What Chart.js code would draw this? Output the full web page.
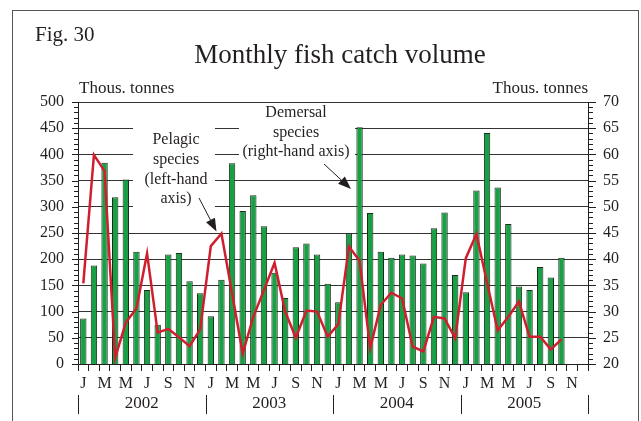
<!DOCTYPE html>
<html>
<head>
<meta charset="utf-8">
<script src="https://cdn.jsdelivr.net/npm/chart.js@4"></script>
<style>
  body { margin: 0; background: #fff; }
  #wrap { width: 641px; height: 421px; }
</style>
</head>
<body>
<div id="wrap"><canvas id="chart" width="641" height="421"></canvas></div>
<script>
const monthLetters = ["J", "F", "M", "A", "M", "J", "J", "A", "S", "O", "N", "D"];
const years = ["2002", "2003", "2004", "2005"];

// Demersal species, thous. tonnes (right-hand axis), Jan 2002 - Oct 2005
const demersal = [
    28.7, 38.8, 58.4, 51.8, 55.2, 41.4, 34.1, 27.5, 40.9, 41.2, 35.8, 33.5,
    29.1, 36.1, 58.3, 49.2, 52.2, 46.3, 37.4, 32.6, 42.3, 43.0, 40.9, 35.3,
    31.8, 44.9, 65.2, 48.8, 41.4, 40.3, 40.9, 40.7, 39.2, 45.9, 48.9, 37.0,
    33.7, 53.1, 64.1, 53.7, 46.7, 34.8, 34.1, 38.5, 36.5, 40.3
];

// Pelagic species, thous. tonnes (left-hand axis)
const pelagic = [
    154, 399, 368, 12, 79, 106, 211, 60, 67, 51, 34, 66,
    225, 249, 135, 20, 90, 141, 193, 100, 50, 102, 100, 52,
    76, 224, 197, 30, 113, 136, 125, 33, 24, 90, 87, 49,
    202, 248, 155, 64, 90, 119, 52, 52, 28, 47
];

const leftTicks = [0, 50, 100, 150, 200, 250, 300, 350, 400, 450, 500];
const rightTicks = [20, 25, 30, 35, 40, 45, 50, 55, 60, 65, 70];

const labels = [];
years.forEach(() => monthLetters.forEach((m) => labels.push(m)));

const serif = "'Liberation Serif', 'DejaVu Serif', serif";
const ink = "#231f20";

function clearBoxes(ctx) {
    ctx.fillStyle = "#fff";
    ctx.fillRect(133, 118, 82, 94);
    ctx.fillRect(239, 104, 116, 57);
}

function arrow(ctx, x1, y1, x2, y2) {
    const a = Math.atan2(y2 - y1, x2 - x1);
    const len = 13, half = 5;
    const bx = x2 - len * Math.cos(a), by = y2 - len * Math.sin(a);
    ctx.strokeStyle = ink;
    ctx.lineWidth = 1;
    ctx.beginPath();
    ctx.moveTo(x1, y1);
    ctx.lineTo(bx, by);
    ctx.stroke();
    ctx.fillStyle = ink;
    ctx.beginPath();
    ctx.moveTo(x2, y2);
    ctx.lineTo(bx + half * Math.sin(a), by - half * Math.cos(a));
    ctx.lineTo(bx - half * Math.sin(a), by + half * Math.cos(a));
    ctx.closePath();
    ctx.fill();
}

const decorPlugin = {
    id: "decor",
    beforeDraw(chart) {
        const ctx = chart.ctx;
        ctx.save();
        ctx.fillStyle = "#fff";
        ctx.fillRect(0, 0, chart.width, chart.height);
        ctx.strokeStyle = "#555";
        ctx.lineWidth = 1;
        ctx.strokeRect(12.5, 10.5, 626, 430);
        ctx.fillStyle = ink;
        ctx.textBaseline = "alphabetic";
        ctx.font = "21px " + serif;
        ctx.textAlign = "left";
        ctx.fillText("Fig. 30", 35, 41);
        ctx.font = "27px " + serif;
        ctx.textAlign = "center";
        ctx.fillText("Monthly fish catch volume", 340, 63);
        ctx.font = "17px " + serif;
        ctx.textAlign = "left";
        ctx.fillText("Thous. tonnes", 79, 93);
        ctx.textAlign = "right";
        ctx.fillText("Thous. tonnes", 588, 93);
        ctx.restore();
    },
    beforeDatasetsDraw(chart) {
        const ctx = chart.ctx;
        const area = chart.chartArea;
        const y = chart.scales.y;
        const y1 = chart.scales.y1;
        const x = chart.scales.x;
        ctx.save();
        clearBoxes(ctx);
        ctx.fillStyle = ink;
        ctx.font = "16px " + serif;
        ctx.textAlign = "center";
        ctx.textBaseline = "middle";
        ["Pelagic", "species", "(left-hand", "axis)"].forEach((t, i) => ctx.fillText(t, 176, 140 + i * 19.7));
        ["Demersal", "species", "(right-hand axis)"].forEach((t, i) => ctx.fillText(t, 296, 113 + i * 19.6));

        // minor and major ticks on both value axes
        ctx.strokeStyle = ink;
        ctx.lineWidth = 1;
        ctx.beginPath();
        for (let v = 0; v <= 500; v += 10) {
            const py = Math.round(y.getPixelForValue(v)) + 0.5;
            const len = v % 50 === 0 ? 6 : 4;
            ctx.moveTo(area.left - len, py);
            ctx.lineTo(area.left, py);
        }
        for (let v = 20; v <= 70; v += 1) {
            const py = Math.round(y1.getPixelForValue(v)) + 0.5;
            const len = v % 5 === 0 ? 8 : 5;
            ctx.moveTo(area.right, py);
            ctx.lineTo(area.right + len, py);
        }
        ctx.stroke();

        // year separators and year labels
        const step = (area.right - area.left) / labels.length;
        ctx.beginPath();
        for (let k = 0; k <= years.length; k++) {
            const px = Math.round(area.left + k * 12 * step) + 0.5;
            ctx.moveTo(px, 395);
            ctx.lineTo(px, 414);
        }
        ctx.stroke();
        ctx.font = "17px " + serif;
        years.forEach((yr, k) => ctx.fillText(yr, area.left + (k * 12 + 6) * step, 404));
        ctx.restore();
    },
    afterDatasetsDraw(chart) {
        const ctx = chart.ctx;
        ctx.save();
        arrow(ctx, 199, 198, 216.5, 231.5);
        arrow(ctx, 324, 164, 351, 189);
        ctx.restore();
    }
};

const data = {
    labels: labels,
    datasets: [
        {
            type: "line",
            label: "Pelagic species",
            data: pelagic,
            yAxisID: "y",
            borderColor: "#cf1f2e",
            borderWidth: 2.5,
            pointRadius: 0,
            tension: 0,
            order: 0,
        },
        {
            type: "bar",
            label: "Demersal species",
            data: demersal,
            yAxisID: "y1",
            backgroundColor: "#19a046",
            borderColor: "#1b2e1b",
            borderWidth: 1,
            categoryPercentage: 1,
            barPercentage: 0.6,
            order: 1,
        },
    ],
};

const config = {
    data: data,
    plugins: [decorPlugin],
    options: {
        responsive: false,
        animation: false,
        devicePixelRatio: 1,
        layout: { padding: { top: 102, left: 0, right: 0, bottom: 0 } },
        plugins: {
            legend: { display: false },
            title: { display: false },
            tooltip: { enabled: false },
        },
        scales: {
            x: {
                type: "category",
                offset: true,
                afterFit(scale) { scale.height = 57; },
                grid: {
                    offset: true,
                    drawOnChartArea: false,
                    drawTicks: true,
                    tickLength: 7,
                    color: ink,
                },
                border: { color: ink, width: 1 },
                ticks: {
                    autoSkip: false,
                    maxRotation: 0,
                    padding: 3,
                    color: ink,
                    font: { family: serif, size: 16 },
                    callback: (value, index) => (index % 2 === 0 ? labels[index] : ""),
                },
            },
            y: {
                position: "left",
                min: leftTicks[0],
                max: leftTicks[leftTicks.length - 1],
                afterFit(scale) { scale.width = 78; },
                afterBuildTicks(scale) { scale.ticks = leftTicks.map((v) => ({ value: v })); },
                grid: { color: "#333", lineWidth: 1, drawTicks: false },
                border: { color: ink, width: 1 },
                ticks: {
                    padding: 14,
                    color: ink,
                    font: { family: serif, size: 16 },
                },
            },
            y1: {
                position: "right",
                min: rightTicks[0],
                max: rightTicks[rightTicks.length - 1],
                afterFit(scale) { scale.width = 53; },
                afterBuildTicks(scale) { scale.ticks = rightTicks.map((v) => ({ value: v })); },
                grid: { drawOnChartArea: false, drawTicks: false },
                border: { color: ink, width: 1 },
                ticks: {
                    padding: 15,
                    color: ink,
                    font: { family: serif, size: 16 },
                },
            },
        },
    },
};

const chart = new Chart(document.getElementById("chart").getContext("2d"), config);
</script>
</body>
</html>
